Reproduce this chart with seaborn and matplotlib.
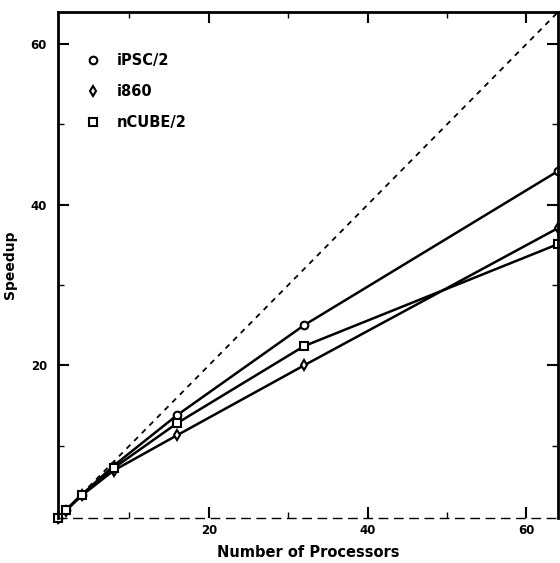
import matplotlib
matplotlib.use("Agg")
import matplotlib.pyplot as plt
import seaborn as sns
import pandas as pd
from matplotlib.ticker import MultipleLocator
from matplotlib.lines import Line2D

processors = [1, 2, 4, 8, 16, 32, 64]
ipsc2 = [1.0, 2.0, 3.9, 7.5, 13.8, 25.0, 44.2]
i860 = [1.0, 1.9, 3.8, 6.9, 11.3, 20.0, 37.1]
ncube2 = [1.0, 2.0, 3.9, 7.2, 12.8, 22.4, 35.1]
series_names = ["iPSC/2", "i860", "nCUBE/2"]
ideal = [1, 64]

sns.set_style("white")
plt.rcParams["font.family"] = ["DejaVu Sans"]
plt.rcParams["text.color"] = "black"
plt.rcParams["axes.labelcolor"] = "black"
plt.rcParams["xtick.color"] = "black"
plt.rcParams["ytick.color"] = "black"

fig = plt.figure(figsize=(5.6, 5.63), dpi=100)
ax = fig.add_axes([0.1036, 0.08, 0.893, 0.8987])

markers = {"iPSC/2": "o", "i860": "d", "nCUBE/2": "s"}
values = {"iPSC/2": ipsc2, "i860": i860, "nCUBE/2": ncube2}

sns.lineplot(x=ideal, y=ideal, ax=ax, color="black", lw=1.3,
             linestyle=(0, (3, 3)))
for name in series_names:
    df = pd.DataFrame({"p": processors, "s": values[name]})
    sns.lineplot(data=df, x="p", y="s", ax=ax, color="black", lw=1.8,
                 marker=markers[name], markersize=5.5, markerfacecolor="white",
                 markeredgecolor="black", markeredgewidth=1.5, clip_on=False)

ax.set_xlim(1, 64)
ax.set_ylim(1, 64)
ax.xaxis.set_major_locator(MultipleLocator(20))
ax.xaxis.set_minor_locator(MultipleLocator(10))
ax.yaxis.set_major_locator(MultipleLocator(20))
ax.yaxis.set_minor_locator(MultipleLocator(10))
ax.tick_params(which="both", direction="in", top=True, right=True,
               bottom=True, left=True, color="black")
ax.tick_params(which="major", length=8, width=1.5)
ax.tick_params(which="minor", length=4, width=1.0)
for lab in ax.get_xticklabels() + ax.get_yticklabels():
    lab.set_fontweight("bold")
    lab.set_fontsize(8.5)
ax.tick_params(axis="x", pad=4)
ax.tick_params(axis="y", pad=8)

for side in ["left", "right", "top"]:
    ax.spines[side].set_linewidth(2.0)
    ax.spines[side].set_color("black")
ax.spines["bottom"].set_linewidth(1.0)
ax.spines["bottom"].set_color("black")
ax.spines["bottom"].set_linestyle((0, (6, 5)))

ax.set_xlabel("Number of Processors", fontsize=10.5, fontweight="bold", labelpad=6)
ax.set_ylabel("Speedup", fontsize=10, fontweight="bold", labelpad=10)

handles = [Line2D([], [], linestyle="none", marker=markers[n], markersize=5.5,
                  markerfacecolor="white", markeredgecolor="black",
                  markeredgewidth=1.5) for n in series_names]
leg = ax.legend(handles, series_names, loc="upper left", frameon=False,
                bbox_to_anchor=(0.015, 0.945), handletextpad=0.6,
                labelspacing=1.1, prop={"weight": "bold", "size": 10.5})

fig.savefig("out.png", dpi=100)
